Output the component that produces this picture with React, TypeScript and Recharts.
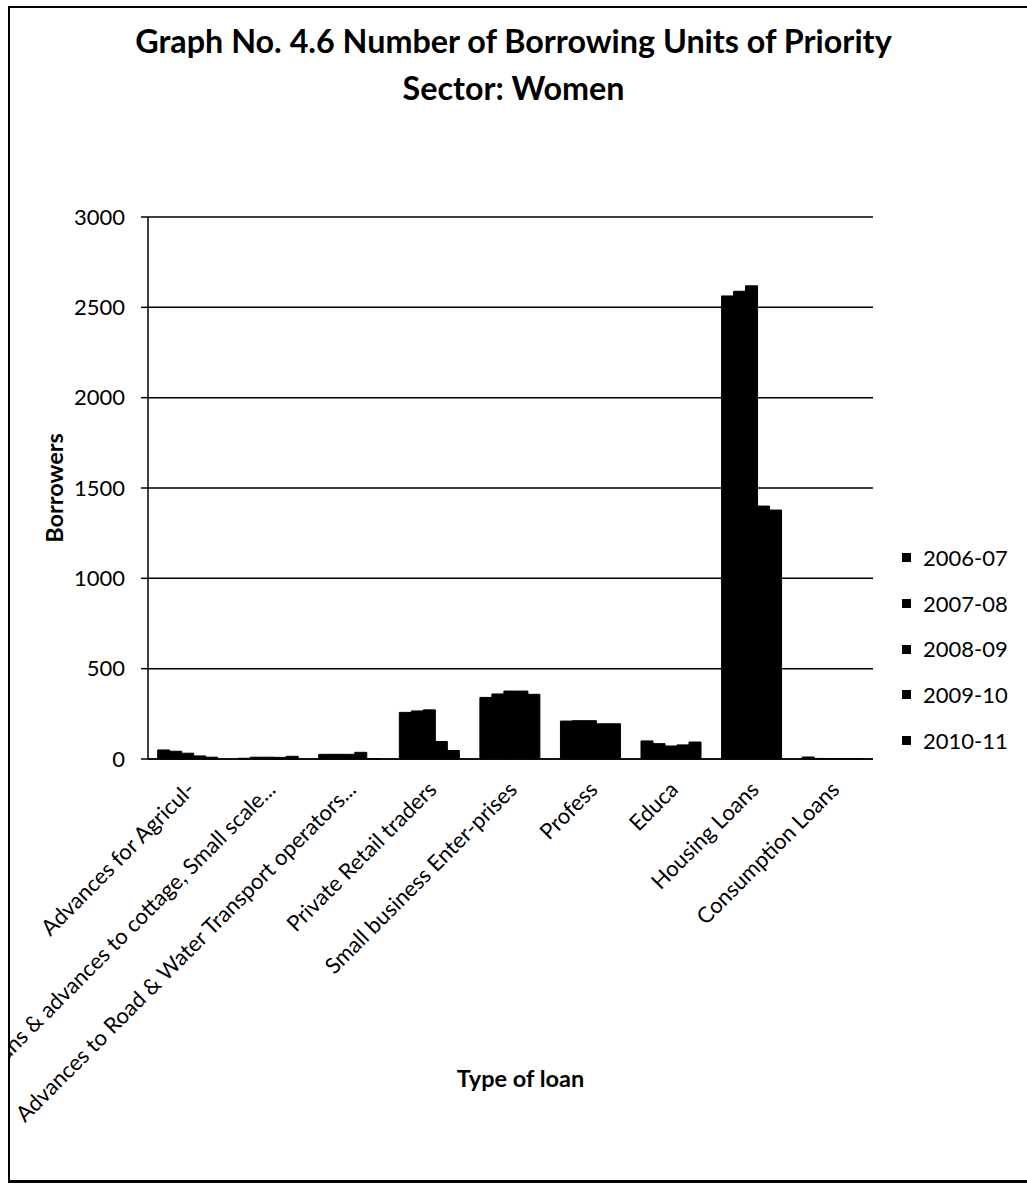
import { BarChart, Bar, XAxis, YAxis, CartesianGrid, Legend } from "recharts";

const categories = [
    "Advances for Agricul-",
    "Loans & advances to cottage, Small scale...",
    "Advances to Road & Water Transport operators...",
    "Private Retail traders",
    "Small business Enter-prises",
    "Profess",
    "Educa",
    "Housing Loans",
    "Consumption Loans",
];

const years = ["2006-07", "2007-08", "2008-09", "2009-10", "2010-11"];

const y2006 = [50, 4, 26, 258, 341, 210, 100, 2563, 11];
const y2007 = [43, 10, 26, 266, 360, 212, 85, 2589, 3];
const y2008 = [32, 10, 26, 272, 376, 212, 72, 2619, 2];
const y2009 = [17, 9, 37, 97, 376, 195, 78, 1400, 2];
const y2010 = [10, 15, 2, 47, 358, 195, 94, 1378, 2];

const yTicks = [0, 500, 1000, 1500, 2000, 2500, 3000];

const series = [y2006, y2007, y2008, y2009, y2010];

const data = categories.map((name, i) => {
    const row: Record<string, string | number> = { name };
    years.forEach((yr, k) => {
        row[yr] = series[k][i];
    });
    return row;
});

const FONT = "Lato, 'Open Sans', sans-serif";

// rotated category labels, text end sits just right of the category centre
function CategoryTick(props: any) {
    const { x, y, payload } = props;
    const tx = x + 8;
    const ty = y + 32;
    return (
        <text
            x={tx}
            y={ty}
            transform={`rotate(-45, ${tx}, ${ty})`}
            textAnchor="end"
            fontSize={22}
            fontFamily={FONT}
            fill="#000"
        >
            {payload.value}
        </text>
    );
}

function YearLegend(props: any) {
    const { payload } = props;
    return (
        <div style={{ fontFamily: FONT, fontSize: 22, color: "#000" }}>
            {payload.map((p: any) => (
                <div
                    key={p.value}
                    style={{ height: 45.7, lineHeight: "45.7px", display: "flex", alignItems: "center" }}
                >
                    <span
                        style={{
                            width: 9,
                            height: 9,
                            background: "#000",
                            display: "inline-block",
                            marginLeft: -1,
                            marginRight: 12,
                        }}
                    />
                    {p.value}
                </div>
            ))}
        </div>
    );
}

export default function App() {
    return (
        <div
            style={{
                position: "fixed",
                left: 0,
                top: 0,
                width: 1027,
                height: 1184,
                overflow: "hidden",
                background: "#fff",
            }}
        >
            {/* outer frame: no right edge */}
            <div
                style={{
                    position: "absolute",
                    left: 8,
                    top: 6,
                    width: 1040,
                    height: 1172,
                    borderTop: "2px solid #000",
                    borderLeft: "2px solid #000",
                    borderBottom: "3px solid #000",
                }}
            />
            <div
                style={{
                    position: "absolute",
                    left: 0,
                    top: 17,
                    width: 1027,
                    textAlign: "center",
                    fontFamily: FONT,
                    fontWeight: 700,
                    fontSize: 32.3,
                    lineHeight: "47px",
                    color: "#000",
                }}
            >
                Graph No. 4.6 Number of Borrowing Units of Priority
                <br />
                Sector: Women
            </div>
            <div style={{ position: "absolute", left: 10, top: 0 }}>
                <BarChart
                    width={1017}
                    height={1184}
                    data={data}
                    margin={{ top: 217, right: 154, bottom: 0, left: 0 }}
                    barCategoryGap="12%"
                    barGap={0}
                >
                    <CartesianGrid vertical={false} stroke="#000" strokeWidth={1.5} />
                    <XAxis
                        dataKey="name"
                        height={425}
                        interval={0}
                        tickLine={false}
                        tickSize={0}
                        tickMargin={0}
                        axisLine={{ stroke: "#000", strokeWidth: 1.5 }}
                        tick={<CategoryTick />}
                        label={{
                            content: () => (
                                <text
                                    x={510.5}
                                    y={1087}
                                    textAnchor="middle"
                                    fontSize={23.5}
                                    fontWeight={700}
                                    fontFamily={FONT}
                                    fill="#000"
                                >
                                    Type of loan
                                </text>
                            ),
                        }}
                    />
                    <YAxis
                        width={138}
                        domain={[0, 3000]}
                        ticks={yTicks}
                        interval={0}
                        tickSize={7}
                        tickMargin={16}
                        tickLine={{ stroke: "#000", strokeWidth: 1.5 }}
                        axisLine={{ stroke: "#000", strokeWidth: 1.5 }}
                        tick={{ fontSize: 22, fontFamily: FONT, fill: "#000" }}
                        label={{
                            content: () => (
                                <text
                                    x={53}
                                    y={488}
                                    transform="rotate(-90, 53, 488)"
                                    textAnchor="middle"
                                    fontSize={23.5}
                                    fontWeight={700}
                                    fontFamily={FONT}
                                    fill="#000"
                                >
                                    Borrowers
                                </text>
                            ),
                        }}
                    />
                    <Legend
                        layout="vertical"
                        align="center"
                        verticalAlign="middle"
                        content={<YearLegend />}
                        wrapperStyle={{ left: 893, top: 535, width: 130 }}
                    />
                    {years.map((yr) => (
                        <Bar
                            key={yr}
                            dataKey={yr}
                            fill="#000"
                            stroke="#000"
                            strokeWidth={1}
                            isAnimationActive={false}
                        />
                    ))}
                </BarChart>
            </div>
        </div>
    );
}
